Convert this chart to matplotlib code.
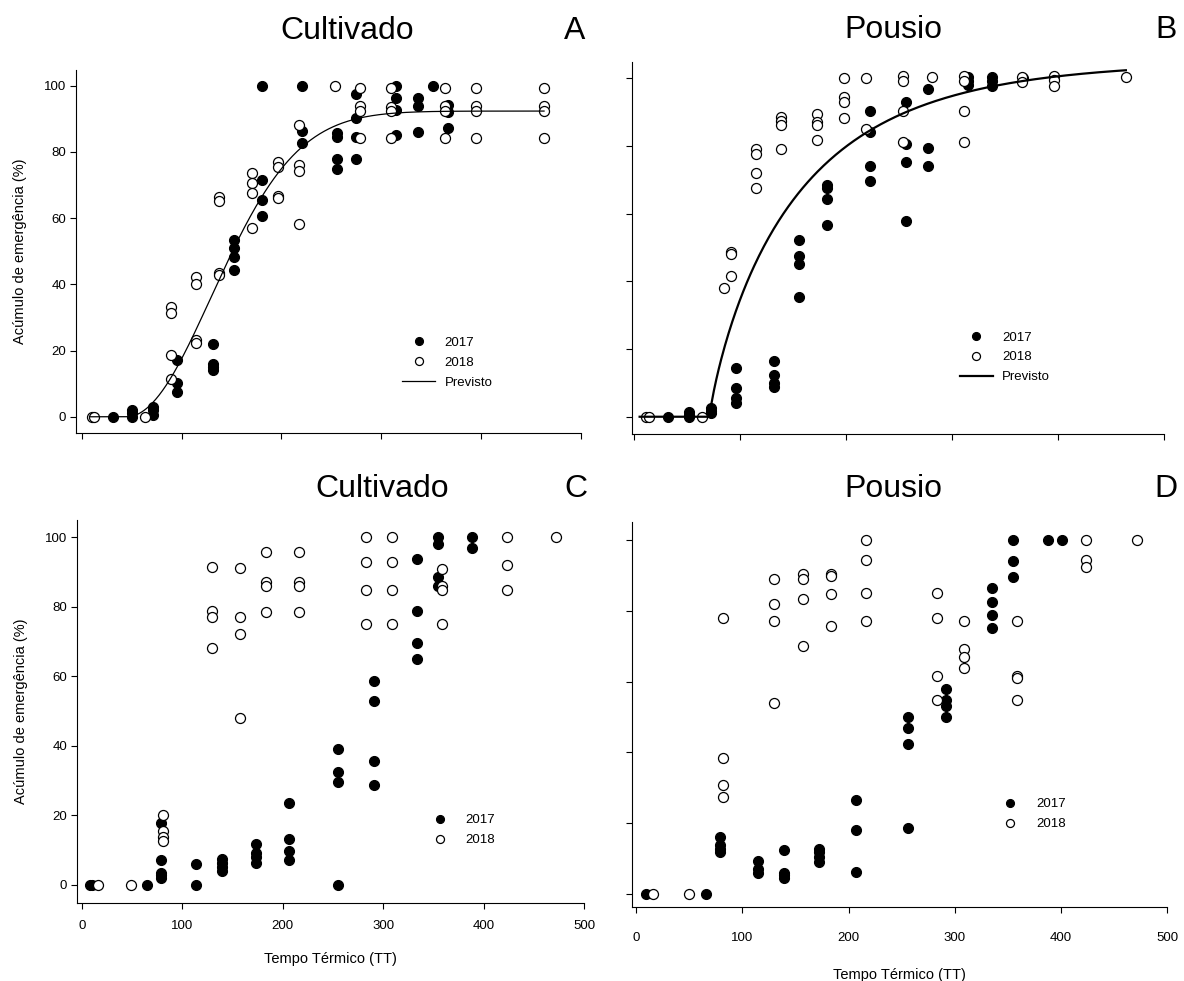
import numpy as np
import matplotlib
matplotlib.use("Agg")
import matplotlib.pyplot as plt

plt.rcParams['font.family'] = ['Liberation Sans', 'DejaVu Sans']

# ---- dados: tempo termico (TT) e acumulo de emergencia (%) ----
# A - Cultivado (ajuste)
tt_a_2017 = [31, 50, 50, 50, 71, 71, 71, 95, 95, 95, 131, 131, 131, 131,
             153, 153, 153, 153, 181, 181, 181, 181, 221, 221, 221,
             256, 256, 256, 256, 275, 275, 275, 275, 315, 315, 315, 315,
             337, 337, 337, 352, 367, 367, 367]
ac_a_2017 = [0, 2.0, 1.0, 0, 3.0, 2.0, 0.5, 17.1, 10.3, 7.6, 21.9, 15.9, 14.9, 14.1,
             53.4, 51.1, 48.3, 44.3, 100, 71.5, 65.5, 60.6, 100, 86.4, 82.6,
             85.6, 84.4, 77.9, 74.8, 97.4, 90.1, 84.4, 77.9, 100, 96.2, 92.7, 85.1,
             96.2, 93.9, 86.1, 100, 94.2, 91.9, 87.3]
tt_a_2018 = [10, 12, 63, 89, 89, 89, 89, 114, 114, 114, 114, 137, 137, 137, 137,
             171, 171, 171, 171, 197, 197, 197, 197, 218, 218, 218, 218, 254,
             279, 279, 279, 279, 310, 310, 310, 310, 364, 364, 364, 364,
             395, 395, 395, 395, 463, 463, 463, 463]
ac_a_2018 = [0, 0, 0, 33.2, 31.2, 18.8, 11.3, 42.3, 40.1, 23.2, 22.4, 66.5, 65.0, 43.3, 42.8,
             73.7, 70.5, 67.5, 56.9, 77.0, 75.3, 66.7, 66.2, 88.1, 76.0, 74.3, 58.1, 100,
             99.4, 93.7, 92.4, 84.1, 99.4, 93.4, 92.4, 84.1, 99.4, 93.7, 92.4, 84.1,
             99.4, 93.7, 92.4, 84.1, 99.4, 93.7, 92.4, 84.1]

# B - Pousio (ajuste)
tt_b_2017 = [32, 52, 52, 52, 72, 72, 72, 96, 96, 96, 96, 132, 132, 132, 132,
             155, 155, 155, 155, 182, 182, 182, 182, 222, 222, 222, 222,
             256, 256, 256, 256, 277, 277, 277, 315, 315, 315, 338, 338, 338, 367]
ac_b_2017 = [0, 1.5, 0.5, 0, 2.5, 1.7, 1.0, 14.3, 8.6, 5.6, 4.0, 16.5, 12.3, 9.9, 8.7,
             52.2, 47.5, 45.1, 35.5, 68.5, 67.5, 64.3, 56.6, 90.3, 84.2, 74.1, 69.6,
             92.9, 80.6, 75.2, 57.8, 96.8, 79.5, 74.1, 100.5, 99.3, 98.0, 100.5, 99.2, 97.7, 100]
tt_b_2018 = [11, 14, 64, 85, 91, 91, 91, 115, 115, 115, 115, 138, 138, 138, 138,
             172, 172, 172, 172, 198, 198, 198, 198, 219, 219, 254, 254, 254, 254, 281,
             311, 311, 311, 311, 366, 366, 396, 396, 396, 464]
ac_b_2018 = [0, 0, 0, 38.1, 48.8, 48.1, 41.6, 79.0, 77.5, 71.9, 67.5, 88.5, 87.5, 86.2, 79.0,
             89.5, 87.2, 86.2, 81.8, 100, 94.6, 92.9, 88.2, 100, 84.9, 100.8, 99.2, 90.3, 81.3, 100.5,
             100.8, 99.2, 90.3, 81.3, 100.5, 99.0, 100.7, 99.5, 97.7, 100.3]

# C - Cultivado
tt_c_2017 = [8, 10, 65, 79, 79, 79, 79, 79, 114, 114, 139, 139, 139, 139,
             173, 173, 173, 173, 206, 206, 206, 206, 255, 255, 255, 255,
             291, 291, 291, 291, 334, 334, 334, 334, 355, 355, 355, 355, 388, 388]
ac_c_2017 = [0, 0, 0, 17.7, 7.2, 3.5, 2.9, 1.9, 5.9, 0, 7.4, 6.2, 5.1, 3.9,
             11.8, 9.1, 7.9, 6.4, 23.6, 13.1, 9.8, 7.2, 39.2, 32.4, 29.5, 0,
             58.8, 53.0, 35.7, 28.7, 93.8, 78.8, 69.7, 64.9, 100, 98.1, 88.5, 86.1, 100, 97.0]
tt_c_2018 = [16, 49, 81, 81, 81, 81, 129, 129, 129, 129, 157, 157, 157, 157,
             183, 183, 183, 183, 216, 216, 216, 216, 283, 283, 283, 283,
             309, 309, 309, 309, 359, 359, 359, 359, 423, 423, 423, 472]
ac_c_2018 = [0, 0, 20.1, 15.6, 13.7, 12.7, 91.6, 78.9, 77.0, 68.2, 91.1, 77.1, 72.1, 48.1,
             95.7, 87.1, 86.1, 78.4, 95.7, 87.1, 86.1, 78.4, 100, 93.0, 84.8, 75.1,
             100, 93.0, 84.8, 75.1, 90.8, 86.1, 84.8, 75.1, 100, 92.0, 84.8, 100]

# D - Pousio
tt_d_2017 = [9, 66, 79, 79, 79, 79, 115, 115, 115, 139, 139, 139, 139,
             172, 172, 172, 172, 207, 207, 207, 256, 256, 256, 256,
             292, 292, 292, 292, 335, 335, 335, 335, 355, 355, 355, 388, 401]
ac_d_2017 = [0, 0, 16.2, 13.8, 12.9, 11.9, 9.4, 7.2, 6.0, 12.6, 6.0, 5.4, 4.5,
             12.9, 11.9, 10.5, 9.1, 26.5, 18.2, 6.3, 50.0, 47.0, 42.3, 18.8,
             58.0, 54.9, 53.1, 50.0, 86.5, 82.4, 78.9, 75.1, 100, 93.9, 89.5, 100, 100]
tt_d_2018 = [16, 50, 82, 82, 82, 82, 130, 130, 130, 130, 157, 157, 157, 157,
             183, 183, 183, 183, 216, 216, 216, 216, 283, 283, 283, 283,
             309, 309, 309, 309, 359, 359, 359, 359, 424, 424, 424, 472]
ac_d_2018 = [0, 0, 78.0, 38.5, 30.9, 27.4, 89.0, 82.0, 77.1, 53.9, 90.2, 89.0, 83.2, 70.0,
             90.2, 89.9, 84.8, 75.8, 100, 94.4, 85.1, 77.0, 84.9, 77.9, 61.7, 54.7,
             77.2, 69.3, 66.9, 63.9, 77.1, 61.7, 61.0, 54.7, 100, 94.4, 92.4, 100]

# modelos ajustados (Previsto): Weibull com defasagem
weibull_a = dict(amax=92.3, k=1 / 120.0, forma=2.0, lag=45.0)
weibull_b = dict(amax=105.0, k=0.0118, forma=0.85, lag=71.0)


def prev_weibull(tt, amax, k, forma, lag):
    d = np.clip(tt - lag, 0, None)
    return amax * (1 - np.exp(-(k * d) ** forma))


W, H = 1184, 981
fig = plt.figure(figsize=(W / 100, H / 100), dpi=100)


def painel(caixa, xlim, ylim, rotulo_x, rotulo_y):
    esq, topo, dir_, base = caixa
    ax = fig.add_axes([esq / W, 1 - base / H, (dir_ - esq) / W, (base - topo) / H])
    ax.set_xlim(*xlim)
    ax.set_ylim(*ylim)
    ax.spines['top'].set_visible(False)
    ax.spines['right'].set_visible(False)
    for s in ('left', 'bottom'):
        ax.spines[s].set_linewidth(0.8)
    ax.set_xticks([0, 100, 200, 300, 400, 500])
    ax.set_yticks([0, 20, 40, 60, 80, 100])
    ax.tick_params(direction='out', length=4, width=0.8, labelsize=9.5, pad=3)
    ax.tick_params(axis='x', pad=8)
    if not rotulo_x:
        ax.tick_params(axis='x', labelbottom=False)
    if not rotulo_y:
        ax.tick_params(axis='y', labelleft=False)
    return ax


def pontos(ax, x17, y17, x18, y18):
    ax.plot(x17, y17, 'o', ms=7.2, mfc='black', mec='black', mew=0.8, label='2017')
    ax.plot(x18, y18, 'o', ms=7.2, mfc='white', mec='black', mew=0.9, label='2018')


def legenda(ax, ancora):
    ax.legend(loc='upper left', bbox_to_anchor=ancora, frameon=False, fontsize=9.5,
              handlelength=2.5, handletextpad=0.7, labelspacing=0.58,
              borderpad=0, borderaxespad=0, markerscale=0.8)


ylab = 'Acúmulo de emergência (%)'
xlab = 'Tempo Térmico (TT)'

# A
ax_a = painel((76, 70, 581, 433), (-5.7, 500), (-4.9, 104.7), False, True)
pontos(ax_a, tt_a_2017, ac_a_2017, tt_a_2018, ac_a_2018)
tt = np.linspace(8, 463, 400)
ax_a.plot(tt, prev_weibull(tt, **weibull_a), color='black', lw=0.9, label='Previsto')
ax_a.set_ylabel(ylab, fontsize=10.5, labelpad=12)
legenda(ax_a, (0.646, 0.265))

# B
ax_b = painel((632, 62, 1164, 434), (-2.2, 500), (-5.1, 104.8), False, False)
pontos(ax_b, tt_b_2017, ac_b_2017, tt_b_2018, ac_b_2018)
tt = np.linspace(5, 464, 400)
ax_b.plot(tt, prev_weibull(tt, **weibull_b), color='black', lw=1.6, label='Previsto')
legenda(ax_b, (0.616, 0.276))

# C
ax_c = painel((77, 520, 584, 903), (-5, 500), (-5.2, 105), True, True)
pontos(ax_c, tt_c_2017, ac_c_2017, tt_c_2018, ac_c_2018)
ax_c.set_ylabel(ylab, fontsize=10.5, labelpad=12)
ax_c.set_xlabel(xlab, fontsize=10.5, labelpad=15)
legenda(ax_c, (0.683, 0.232))

# D
ax_d = painel((632, 522, 1167, 907), (-4, 500), (-3.6, 105), True, False)
pontos(ax_d, tt_d_2017, ac_d_2017, tt_d_2018, ac_d_2018)
ax_d.tick_params(axis='x', pad=14)
ax_d.set_xlabel(xlab, fontsize=10.5, labelpad=17)
legenda(ax_d, (0.676, 0.283))

# titulos dos paineis
titulos = [('Cultivado', 347, 39), ('A', 575, 39), ('Pousio', 893, 38), ('B', 1166, 38),
           ('Cultivado', 382, 497), ('C', 576, 497), ('Pousio', 893, 497), ('D', 1166, 497)]
for txt, px, py in titulos:
    fig.text(px / W, 1 - py / H, txt, ha='center', va='baseline', fontsize=23)

fig.savefig('out.png', dpi=100)
